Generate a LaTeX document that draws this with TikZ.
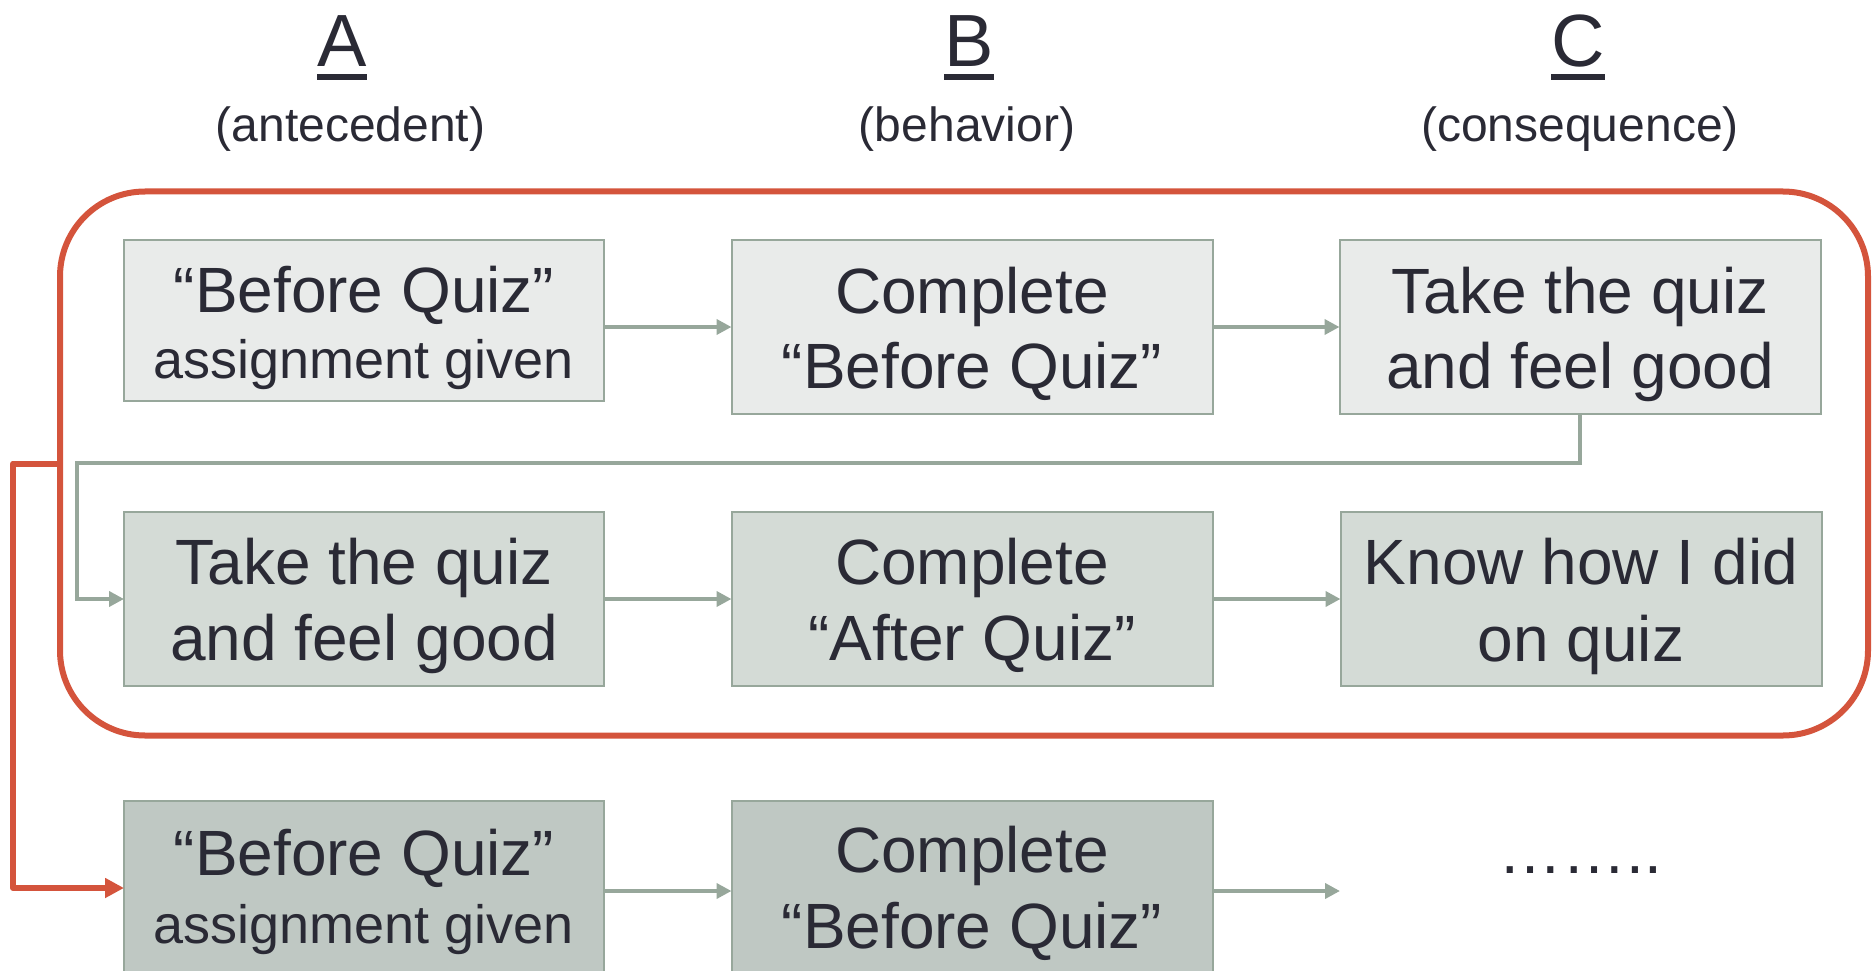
\documentclass[tikz,border=0pt]{standalone}
\usepackage{fontspec}
\setmainfont{Liberation Sans}
\usetikzlibrary{arrows.meta}
\definecolor{ink}{HTML}{2A2A35}
\definecolor{lineg}{HTML}{97A79B}
\definecolor{redc}{HTML}{D4543C}
\definecolor{fillA}{HTML}{E9EBEA}
\definecolor{fillB}{HTML}{D4DBD6}
\definecolor{fillC}{HTML}{BFC8C3}
\newcommand\ulbox[1]{\setbox0=\hbox{#1}\rlap{\rule[-13pt]{\wd0}{6pt}}\box0}
\newcommand\twoln[3]{\vtop{\baselineskip=#1pt\lineskiplimit=-1000pt\halign{\hfil##\hfil\cr#2\cr#3\cr}}}
\tikzset{
  box/.style={draw=lineg, line width=2pt, inner sep=0pt, outer sep=0pt, minimum width=481pt, minimum height=174pt},
  txt/.style={anchor=base, inner sep=0pt, outer sep=0pt, text=ink, font=\fontsize{64}{76}\selectfont},
  hdr/.style={anchor=base, inner sep=0pt, outer sep=0pt, text=ink, font=\fontsize{74}{80}\selectfont},
  sub/.style={anchor=base, inner sep=0pt, outer sep=0pt, text=ink, font=\fontsize{48}{56}\selectfont},
  conn/.style={draw=lineg, line width=4pt, -{Triangle[length=15pt,width=15pt]}},
  redconn/.style={draw=redc, line width=6pt, line join=round, -{Triangle[length=19pt,width=19pt]}}
}
\begin{document}
\begin{tikzpicture}[x=1pt,y=-1pt]
\useasboundingbox (0,0) rectangle (1875,971);
\clip (0,0) rectangle (1875,971);
% headers
\node[hdr] (hA) at (342,67) {\ulbox{A}};
\node[hdr] (hB) at (969,67) {\ulbox{B}};
\node[hdr] (hC) at (1578,67) {\ulbox{C}};
\node[sub] (sA) at (350.5,142) {(antecedent)};
\node[sub] (sB) at (967,142) {(behavior)};
\node[sub] (sC) at (1580,142) {(consequence)};
% frame
\node[draw=redc, line width=6pt, rounded corners=85pt, minimum width=1808pt, minimum height=544pt, inner sep=0pt, outer sep=0pt] (frame) at (964,463.5) {};
% boxes
\node[box, fill=fillA, minimum width=480pt, minimum height=161pt] (a1) at (364,320.5) {};
\node[box, fill=fillA] (b1) at (972,327) {};
\node[box, fill=fillA] (c1) at (1580,327) {};
\node[box, fill=fillB, minimum width=480pt] (a2) at (364,599) {};
\node[box, fill=fillB] (b2) at (972,599) {};
\node[box, fill=fillB] (c2) at (1581,599) {};
\node[box, fill=fillC, minimum width=480pt] (a3) at (364,888) {};
\node[box, fill=fillC, minimum height=180pt] (b3) at (972,891) {};
% texts
\node[txt] (a1t) at (364,312) {\twoln{66}{“Before Quiz”}{\fontsize{54}{60}\selectfont assignment given}};
\node[txt] (b1t) at (972,313) {\twoln{75.5}{Complete}{“Before Quiz”}};
\node[txt] (c1t) at (1580,313) {\twoln{75.5}{Take the quiz}{and feel good}};
\node[txt] (a2t) at (364,584) {\twoln{76}{Take the quiz}{and feel good}};
\node[txt] (b2t) at (972,584) {\twoln{76}{Complete}{“After Quiz”}};
\node[txt] (c2t) at (1581,584) {\twoln{77}{Know how I did}{on quiz}};
\node[txt] (a3t) at (364,875) {\twoln{68}{“Before Quiz”}{\fontsize{54}{60}\selectfont assignment given}};
\node[txt] (b3t) at (972,872) {\twoln{76}{Complete}{“Before Quiz”}};
\node[txt] (dots) at (1580,873) {……..};
% connectors
\coordinate (turn) at (77,463);
\coordinate (more) at (1340,891);
\coordinate (redturn) at (13,463.5);
\draw[conn] (a1.east |- b1.west) -- (b1.west);
\draw[conn] (b1.east) -- (c1.west);
\draw[conn] (c1.south) |- (turn) |- (a2.west);
\draw[conn] (a2.east) -- (b2.west);
\draw[conn] (b2.east) -- (c2.west);
\draw[conn] (a3.east |- b3.west) -- (b3.west);
\draw[conn] (b3.east) -- (more);
\draw[redconn] (frame.west) -- (redturn) |- (a3.west);
\end{tikzpicture}
\end{document}
